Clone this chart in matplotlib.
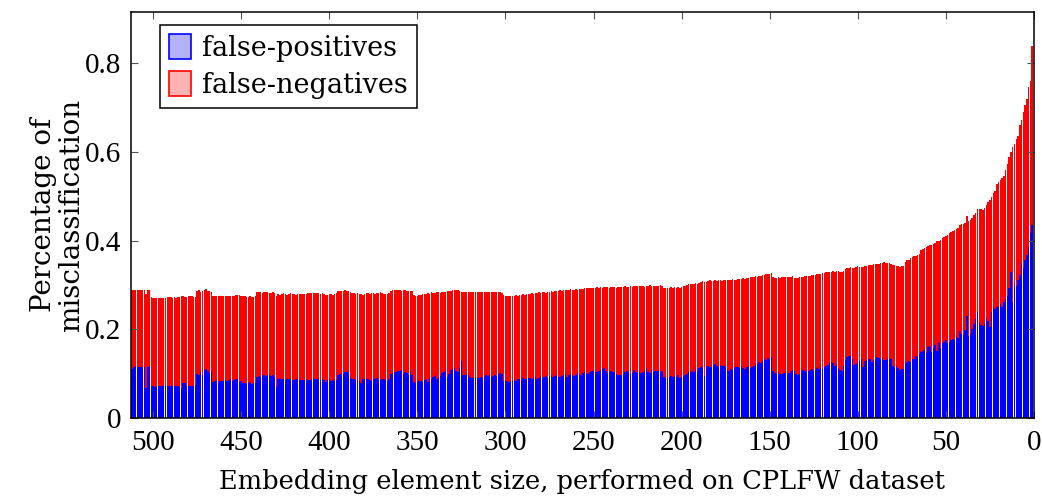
import numpy as np
import matplotlib
matplotlib.use("Agg")
import matplotlib.pyplot as plt
from matplotlib.patches import Patch

# Embedding sizes, left to right as drawn (512 ... 1)
sizes = list(range(512, 0, -1))

# Total misclassification (red top) per size, in thousandths, 512 -> 1
total = [
    288, 289, 288, 288, 289, 288, 288, 289, 279, 288, 289, 272, 271, 271, 270, 271,
    271, 270, 270, 271, 272, 273, 272, 271, 272, 271, 272, 273, 275, 274, 272, 273,
    274, 275, 274, 273, 273, 286, 288, 285, 287, 289, 290, 286, 287, 285, 276, 275,
    275, 274, 275, 274, 276, 275, 276, 275, 276, 276, 275, 277, 278, 277, 276, 275,
    274, 273, 273, 274, 273, 272, 274, 283, 284, 283, 282, 284, 285, 283, 282, 282,
    283, 281, 275, 279, 278, 280, 281, 279, 278, 280, 281, 280, 279, 278, 279, 280,
    279, 279, 280, 280, 281, 281, 282, 281, 281, 282, 281, 280, 281, 279, 278, 278,
    280, 279, 278, 280, 282, 286, 286, 287, 286, 288, 287, 286, 285, 282, 281, 280,
    281, 280, 279, 278, 279, 281, 282, 280, 281, 282, 280, 281, 282, 283, 281, 280,
    279, 280, 281, 287, 288, 288, 289, 289, 288, 287, 288, 289, 287, 286, 287, 286,
    277, 276, 276, 277, 278, 279, 280, 279, 281, 280, 283, 282, 281, 284, 283, 282,
    285, 284, 285, 286, 286, 287, 288, 289, 289, 288, 287, 284, 285, 284, 283, 284,
    285, 284, 284, 283, 284, 285, 284, 285, 284, 283, 284, 285, 284, 283, 284, 283,
    283, 284, 282, 277, 276, 275, 276, 275, 274, 276, 277, 276, 277, 278, 279, 278,
    279, 280, 280, 281, 280, 282, 281, 283, 282, 283, 284, 282, 284, 285, 286, 285,
    286, 287, 286, 288, 287, 288, 289, 288, 289, 290, 289, 288, 290, 289, 291, 290,
    291, 292, 293, 292, 293, 294, 293, 294, 295, 294, 295, 294, 295, 296, 295, 294,
    295, 296, 295, 294, 295, 296, 295, 296, 297, 295, 296, 297, 296, 297, 298, 297,
    297, 298, 297, 296, 297, 298, 299, 298, 297, 298, 297, 298, 299, 297, 294, 293,
    293, 294, 295, 294, 295, 294, 295, 293, 296, 297, 298, 300, 301, 302, 303, 302,
    304, 303, 305, 306, 308, 307, 306, 309, 310, 308, 309, 310, 309, 311, 310, 309,
    310, 311, 312, 310, 311, 313, 312, 311, 313, 314, 313, 315, 314, 316, 315, 317,
    318, 317, 319, 318, 320, 321, 322, 323, 324, 325, 324, 326, 318, 316, 315, 317,
    316, 317, 318, 317, 318, 317, 318, 319, 316, 315, 316, 317, 318, 317, 319, 320,
    320, 321, 322, 323, 322, 324, 325, 324, 326, 327, 328, 329, 328, 330, 331, 329,
    331, 332, 330, 329, 332, 336, 337, 338, 340, 339, 338, 341, 342, 341, 340, 341,
    342, 343, 344, 345, 344, 346, 347, 346, 348, 349, 350, 351, 350, 349, 350, 348,
    345, 344, 343, 342, 341, 342, 343, 352, 355, 356, 360, 362, 365, 366, 368, 370,
    378, 380, 383, 385, 388, 390, 389, 393, 395, 398, 400, 402, 405, 407, 410, 412,
    418, 420, 422, 424, 426, 428, 436, 438, 437, 439, 456, 444, 446, 450, 458, 462,
    470, 472, 470, 468, 474, 480, 486, 492, 498, 506, 512, 528, 532, 536, 540, 545,
    560, 572, 588, 600, 610, 618, 628, 636, 660, 672, 690, 705, 720, 745, 760, 838,
]

# False positives (blue) per size, in thousandths, 512 -> 1
false_pos = [
    110, 115, 117, 114, 115, 116, 114, 116, 68, 116, 117, 73, 71, 69, 73, 72,
    72, 73, 72, 72, 72, 73, 73, 72, 72, 73, 73, 70, 67, 79, 80, 72,
    73, 72, 71, 72, 74, 100, 97, 104, 96, 108, 110, 106, 101, 104, 82, 84,
    83, 82, 84, 83, 84, 85, 84, 86, 87, 84, 85, 88, 87, 82, 83, 80,
    78, 77, 80, 82, 76, 78, 79, 92, 95, 93, 96, 98, 94, 96, 97, 95,
    96, 93, 70, 88, 90, 89, 87, 86, 88, 89, 87, 86, 85, 88, 87, 86,
    86, 85, 86, 87, 85, 86, 87, 88, 87, 89, 88, 86, 87, 85, 81, 86,
    86, 84, 85, 83, 86, 98, 100, 101, 100, 103, 104, 101, 90, 88, 87, 86,
    85, 83, 80, 88, 87, 89, 88, 86, 84, 87, 88, 90, 85, 86, 87, 88,
    86, 84, 87, 100, 102, 103, 103, 105, 107, 108, 100, 104, 102, 98, 104, 96,
    82, 80, 81, 83, 84, 82, 85, 88, 82, 90, 87, 92, 94, 89, 90, 95,
    102, 104, 106, 92, 100, 108, 110, 112, 106, 104, 112, 128, 98, 96, 99, 97,
    92, 91, 90, 90, 91, 90, 92, 91, 93, 96, 94, 98, 92, 95, 97, 95,
    100, 102, 99, 84, 83, 84, 82, 83, 83, 85, 84, 88, 87, 86, 90, 89,
    88, 90, 91, 89, 90, 92, 88, 90, 93, 91, 92, 94, 90, 95, 96, 92,
    94, 96, 92, 93, 95, 97, 99, 92, 96, 100, 98, 95, 97, 101, 100, 97,
    102, 104, 101, 100, 103, 105, 106, 104, 103, 105, 108, 110, 112, 106, 102, 104,
    106, 104, 103, 100, 98, 97, 96, 100, 103, 106, 104, 100, 102, 108, 103, 101,
    103, 102, 104, 106, 112, 103, 102, 108, 104, 107, 106, 105, 104, 106, 93, 90,
    91, 93, 94, 92, 95, 93, 96, 90, 92, 95, 98, 100, 103, 104, 106, 104,
    110, 107, 112, 116, 114, 95, 117, 118, 114, 116, 120, 122, 118, 116, 119, 117,
    118, 115, 108, 106, 110, 109, 112, 116, 114, 112, 118, 113, 110, 115, 118, 112,
    114, 117, 120, 122, 126, 124, 128, 132, 130, 136, 134, 138, 105, 102, 100, 103,
    100, 99, 101, 102, 100, 101, 106, 108, 107, 99, 97, 100, 106, 109, 105, 104,
    105, 108, 110, 106, 109, 112, 110, 114, 111, 116, 118, 120, 124, 126, 125, 118,
    120, 112, 108, 106, 118, 130, 138, 140, 139, 132, 120, 121, 124, 128, 132, 115,
    128, 130, 134, 132, 127, 130, 134, 138, 135, 133, 136, 131, 130, 134, 136, 133,
    118, 116, 117, 113, 108, 111, 110, 122, 126, 128, 126, 133, 132, 140, 138, 145,
    148, 150, 155, 146, 160, 162, 148, 158, 165, 150, 170, 158, 168, 172, 176, 170,
    172, 176, 178, 176, 182, 180, 195, 190, 186, 198, 230, 185, 190, 200, 212, 222,
    238, 215, 210, 208, 212, 226, 218, 205, 240, 248, 246, 250, 252, 256, 250, 262,
    268, 275, 292, 330, 262, 300, 298, 310, 322, 350, 338, 355, 368, 385, 418, 435,
]

xticks = [500, 450, 400, 350, 300, 250, 200, 150, 100, 50, 0]
yticks = [0, 0.2, 0.4, 0.6, 0.8]
ytick_labels = ["0", "0.2", "0.4", "0.6", "0.8"]

fp = np.array(false_pos) / 1000.0
fn = np.array(total) / 1000.0 - fp
x = np.array(sizes)

plt.rcParams['font.family'] = ['DejaVu Serif']

fig = plt.figure(figsize=(10.42, 5.0), dpi=100)
ax = fig.add_axes([0.1257, 0.164, 0.8665, 0.812])

ax.bar(x, fp, width=0.85, color='#0000ff', linewidth=0)
ax.bar(x, fn, width=0.85, bottom=fp, color='#ff0000', linewidth=0)

ax.set_xlim(512.6, 0)
ax.set_ylim(0, 0.915)
ax.set_xticks(xticks)
ax.set_yticks(yticks)
ax.set_yticklabels(ytick_labels)

for lbl in ax.get_xticklabels() + ax.get_yticklabels():
    lbl.set_family('Liberation Serif')
    lbl.set_fontsize(21)

ax.tick_params(direction='in', length=5, width=0.8, color='#555555',
               top=True, right=True, pad=7)
ax.tick_params(axis='x', pad=9)
for s in ax.spines.values():
    s.set_linewidth(1.1)
    s.set_color('black')

ax.set_xlabel("Embedding element size, performed on CPLFW dataset", fontsize=18.5, labelpad=9)
ax.set_ylabel("Percentage of\nmisclassification", fontsize=20, labelpad=0, linespacing=1.05)

handles = [Patch(facecolor=(0, 0, 1, 0.3), edgecolor='#0000ff', linewidth=1.2, label='false-positives'),
           Patch(facecolor=(1, 0, 0, 0.3), edgecolor='#ff0000', linewidth=1.2, label='false-negatives')]
leg = ax.legend(handles=handles, loc='upper left', bbox_to_anchor=(0.032, 0.968),
                borderaxespad=0, fontsize=19.5, fancybox=False, framealpha=1,
                handlelength=0.8, handleheight=1.0, handletextpad=0.4,
                labelspacing=0.35, borderpad=0.35)
leg.get_frame().set_edgecolor('black')
leg.get_frame().set_linewidth(1.1)

fig.savefig("out.png", dpi=100)
